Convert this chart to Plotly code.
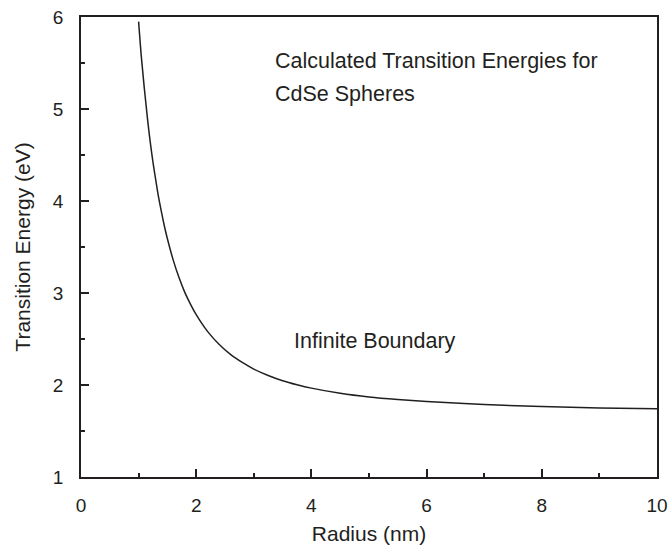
import plotly.graph_objects as go

# Values
radius_nm = [1.00, 1.05, 1.10, 1.15, 1.20, 1.25, 1.30, 1.35, 1.40, 1.45, 1.50,
             1.60, 1.70, 1.80, 1.90, 2.00, 2.20, 2.40, 2.60, 2.80, 3.00,
             3.25, 3.50, 3.75, 4.00, 4.50, 5.00, 5.50, 6.00, 7.00, 8.00,
             9.00, 10.00]
energy_ev = [5.95, 5.55, 5.22, 4.92, 4.65, 4.42, 4.22, 4.03, 3.87, 3.72, 3.59,
             3.36, 3.17, 3.01, 2.88, 2.765, 2.58, 2.44, 2.33, 2.245, 2.173,
             2.104, 2.047, 2.003, 1.966, 1.91, 1.87, 1.842, 1.82, 1.788, 1.765,
             1.751, 1.742]

x_ticks = [0, 2, 4, 6, 8, 10]
y_ticks = [1, 2, 3, 4, 5, 6]

title_line1 = "Calculated Transition Energies for"
title_line2 = "CdSe Spheres"
curve_label = "Infinite Boundary"

FONT = "Liberation Sans, Arial, sans-serif"
INK = "#231f20"

fig = go.Figure()
fig.add_trace(go.Scatter(
    x=radius_nm, y=energy_ev, mode="lines",
    line=dict(color=INK, width=1.5, shape="spline", smoothing=1.0),
    showlegend=False, hoverinfo="skip",
))

axis_common = dict(
    showline=True, linecolor=INK, linewidth=1.5, mirror=True,
    showgrid=False, zeroline=False, automargin=False,
    ticks="inside", ticklen=8, tickwidth=1.5, tickcolor=INK,
    tickfont=dict(family=FONT, size=19, color=INK),
)

fig.update_layout(
    width=672, height=547,
    margin=dict(l=81, r=15, t=17, b=70, autoexpand=False),
    paper_bgcolor="white", plot_bgcolor="white",
    font=dict(family=FONT, color=INK),
    xaxis=dict(
        range=[0, 10], tickvals=x_ticks, ticktext=[str(v) for v in x_ticks],
        minor=dict(dtick=1, ticks="inside", ticklen=4, tickwidth=1.5, tickcolor=INK),
        title=dict(text="Radius (nm)", font=dict(family=FONT, size=21, color=INK), standoff=12),
        ticklabelstandoff=10,
        **axis_common,
    ),
    yaxis=dict(
        range=[1, 6], tickvals=y_ticks, ticktext=[str(v) for v in y_ticks],
        minor=dict(dtick=0.5, ticks="inside", ticklen=4, tickwidth=1.5, tickcolor=INK),
        title=dict(text="Transition Energy (eV)", font=dict(family=FONT, size=21, color=INK), standoff=17),
        ticklabelstandoff=12,
        **axis_common,
    ),
)

ann_font = dict(family=FONT, size=21.5, color=INK)
fig.add_annotation(x=3.34, y=5.52, text=title_line1, showarrow=False,
                   xanchor="left", yanchor="middle", font=ann_font)
fig.add_annotation(x=3.34, y=5.165, text=title_line2, showarrow=False,
                   xanchor="left", yanchor="middle", font=ann_font)
fig.add_annotation(x=3.67, y=2.48, text=curve_label, showarrow=False,
                   xanchor="left", yanchor="middle", font=ann_font)

fig.write_html("out.html")
